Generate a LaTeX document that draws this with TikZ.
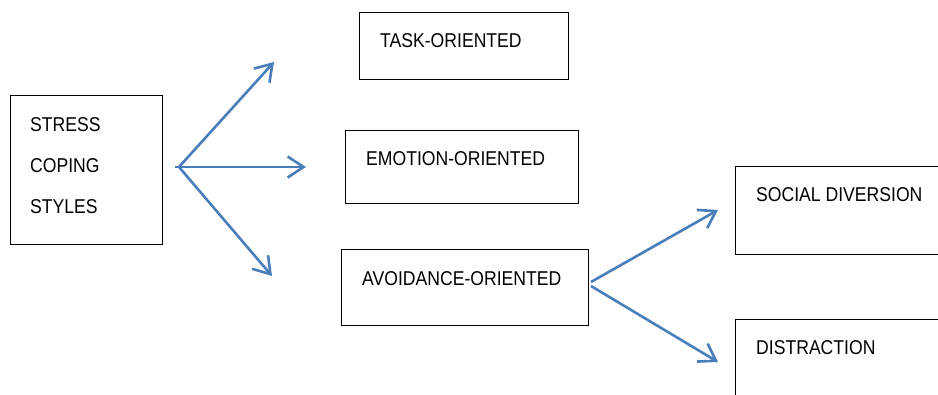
\documentclass[tikz,border=0pt]{standalone}
\usepackage{fontspec}
\setmainfont{Liberation Sans}[FakeStretch=0.88]
\usetikzlibrary{arrows.meta}
\definecolor{wordblue}{RGB}{74,126,187}
\begin{document}
\begin{tikzpicture}[x=1pt, y=-1pt,
		box/.style={draw, line width=1pt, inner sep=0pt},
		lbl/.style={anchor=base west, inner sep=0pt, font=\fontsize{20}{24}\selectfont},
		arr/.style={draw=wordblue, line width=2.6pt, -{Straight Barb[length=16pt,width=21pt]}}]
	\clip (0,0) rectangle (938,395);
	
	% Boxes
	\node[box, minimum width=152, minimum height=149] (stress) at (86,170.5) {};
	\node[box, minimum width=209, minimum height=67] (task) at (463.5,46.5) {};
	\node[box, minimum width=233, minimum height=73] (emotion) at (462,167.5) {};
	\node[box, minimum width=247, minimum height=76] (avoid) at (465,288) {};
	\node[box, minimum width=215, minimum height=88] (social) at (842.5,210.5) {};
	\node[box, minimum width=215, minimum height=90] (distract) at (842.5,365) {};
	
	% Labels
	\foreach \i/\word in {1/STRESS, 2/COPING, 3/STYLES} {
		\node[lbl] (stress\i) at (30, 91+41*\i) {\word};
	}
	\node[lbl] (tasklbl) at (380,48) {TASK-ORIENTED};
	\node[lbl] (emotionlbl) at (366,166) {EMOTION-ORIENTED};
	\node[lbl] (avoidlbl) at (362,286) {AVOIDANCE-ORIENTED};
	\node[lbl] (sociallbl) at (756,202) {SOCIAL DIVERSION};
	\node[lbl] (distractlbl) at (756,355) {DISTRACTION};
	
	% Arrow ends
	\coordinate (fan) at (179,167);
	\coordinate (fanstart) at (175,167);
	\coordinate (toTask) at (274,62);
	\coordinate (toEmotion) at (306,167);
	\coordinate (toAvoid) at (272,276);
	\coordinate (fanA) at (591,282);
	\coordinate (fanB) at (591,286);
	\coordinate (toSocial) at (718,210);
	\coordinate (toDistract) at (718,362);
	
	% Connections
	\draw[arr] (fan) -- (toTask);
	\draw[arr] (fanstart) -- (toEmotion);
	\draw[arr] (fan) -- (toAvoid);
	\draw[arr] (fanA) -- (toSocial);
	\draw[arr] (fanB) -- (toDistract);
\end{tikzpicture}
\end{document}
